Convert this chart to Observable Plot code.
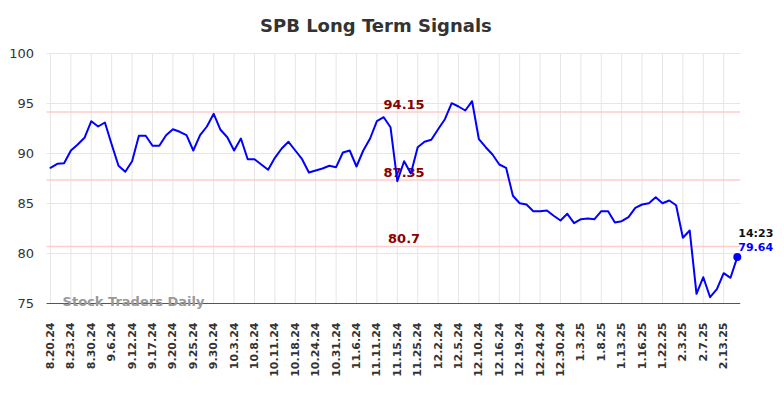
<!DOCTYPE html>
<html>
<head>
<meta charset="utf-8">
<script src="https://cdn.jsdelivr.net/npm/d3@7"></script>
<script src="https://cdn.jsdelivr.net/npm/@observablehq/plot@0.6"></script>
<style>
  html, body { margin: 0; padding: 0; background: #fff; }
  #chart { width: 784px; height: 398px; }
</style>
</head>
<body>
<div id="chart"></div>
<script>
const title = "SPB Long Term Signals";
const watermark = "Stock Traders Daily";

const tickLabels = ["8.20.24","8.23.24","8.30.24","9.6.24","9.12.24","9.17.24","9.20.24","9.25.24","9.30.24","10.3.24","10.8.24","10.11.24","10.18.24","10.24.24","10.31.24","11.6.24","11.11.24","11.15.24","11.25.24","12.2.24","12.5.24","12.10.24","12.16.24","12.19.24","12.24.24","12.30.24","1.3.25","1.8.25","1.13.25","1.16.25","1.22.25","2.3.25","2.7.25","2.13.25"];

const values = [
  88.57, 88.97, 89.03, 90.30, 90.90, 91.57, 93.23, 92.70, 93.10, 90.90,
  88.77, 88.17, 89.23, 91.77, 91.77, 90.77, 90.77, 91.83, 92.43, 92.17,
  91.83, 90.30, 91.83, 92.70, 93.97, 92.37, 91.63, 90.30, 91.50, 89.43,
  89.43, 88.90, 88.37, 89.57, 90.50, 91.17, 90.30, 89.43, 88.10, 88.30,
  88.50, 88.77, 88.63, 90.10, 90.30, 88.70, 90.30, 91.50, 93.23, 93.63,
  92.63, 87.23, 89.23, 88.00, 90.63, 91.17, 91.37, 92.43, 93.43, 95.03,
  94.70, 94.30, 95.23, 91.43, 90.63, 89.90, 88.90, 88.57, 85.77, 85.03,
  84.90, 84.23, 84.23, 84.30, 83.77, 83.30, 83.97, 83.03, 83.43, 83.50,
  83.43, 84.23, 84.23, 83.10, 83.23, 83.63, 84.57, 84.90, 85.03, 85.63,
  85.03, 85.30, 84.83, 81.57, 82.30, 75.97, 77.63, 75.63, 76.43, 78.03,
  77.57, 79.64
];

const levels = [94.15, 87.35, 80.7];
const levelLabels = ["94.15", "87.35", "80.7"];
const lastTime = "14:23";
const lastValue = 79.64;

const pointsPerTick = 3;
const data = values.map((v, i) => ({i, v}));
const tickIdx = tickLabels.map((_, k) => k * pointsPerTick);
const lastIdx = values.length - 1;
const levelX = 52;

const chart = Plot.plot({
  width: 784,
  height: 398,
  marginTop: 53,
  marginBottom: 95,
  marginLeft: 46.6,
  marginRight: 43.8,
  style: {fontFamily: "DejaVu Sans", background: "#fff"},
  x: {domain: [-0.5, values.length - 0.5], axis: null, label: null},
  y: {domain: [75, 100], axis: null, label: null},
  marks: [
    Plot.gridX(tickIdx, {stroke: "#e6e6e6", strokeOpacity: 1, strokeWidth: 1}),
    Plot.gridY([75, 80, 85, 90, 95, 100], {stroke: "#e6e6e6", strokeOpacity: 1, strokeWidth: 1}),
    Plot.axisY([75, 80, 85, 90, 95, 100], {tickSize: 0, tickPadding: 13, fontSize: 13, fill: "#333", stroke: null, label: null}),
    Plot.axisX(tickIdx, {
      tickSize: 0, tickPadding: 19, tickRotate: -90, label: null,
      tickFormat: (d) => tickLabels[d / pointsPerTick],
      fontSize: 11, fontWeight: "bold", fill: "#333", stroke: null
    }),
    Plot.ruleY(levels, {stroke: "#ffcccc", strokeWidth: 1.5}),
    Plot.ruleY([75], {stroke: "#555", strokeWidth: 1.2}),
    Plot.text(levels, {x: () => levelX, y: (d) => d, text: (d, k) => levelLabels[k], dy: -7.5,
      fill: "#8b0000", fontSize: 13, fontWeight: "bold"}),
    Plot.text([watermark], {frameAnchor: "bottom-left", dx: 15.5, dy: 2, textAnchor: "start",
      fill: "#999", fontSize: 13, fontWeight: "bold"}),
    Plot.line(data, {x: "i", y: "v", stroke: "#0000ff", strokeWidth: 2}),
    Plot.dot([lastValue], {x: () => lastIdx, y: (d) => d, r: 4, fill: "#0000ff"}),
    Plot.text([lastTime], {x: () => lastIdx, y: () => lastValue, dx: 1, dy: -24, textAnchor: "start",
      fill: "#111", fontSize: 11, fontWeight: "bold"}),
    Plot.text([lastValue], {x: () => lastIdx, y: (d) => d, text: (d) => d.toFixed(2), dx: 1, dy: -10, textAnchor: "start",
      fill: "#0000ff", fontSize: 11, fontWeight: "bold"}),
    Plot.text([title], {frameAnchor: "top", dx: -18, dy: -34, fill: "#333", fontSize: 18, fontWeight: "bold"})
  ]
});
document.getElementById("chart").appendChild(chart);
</script>
</body>
</html>
